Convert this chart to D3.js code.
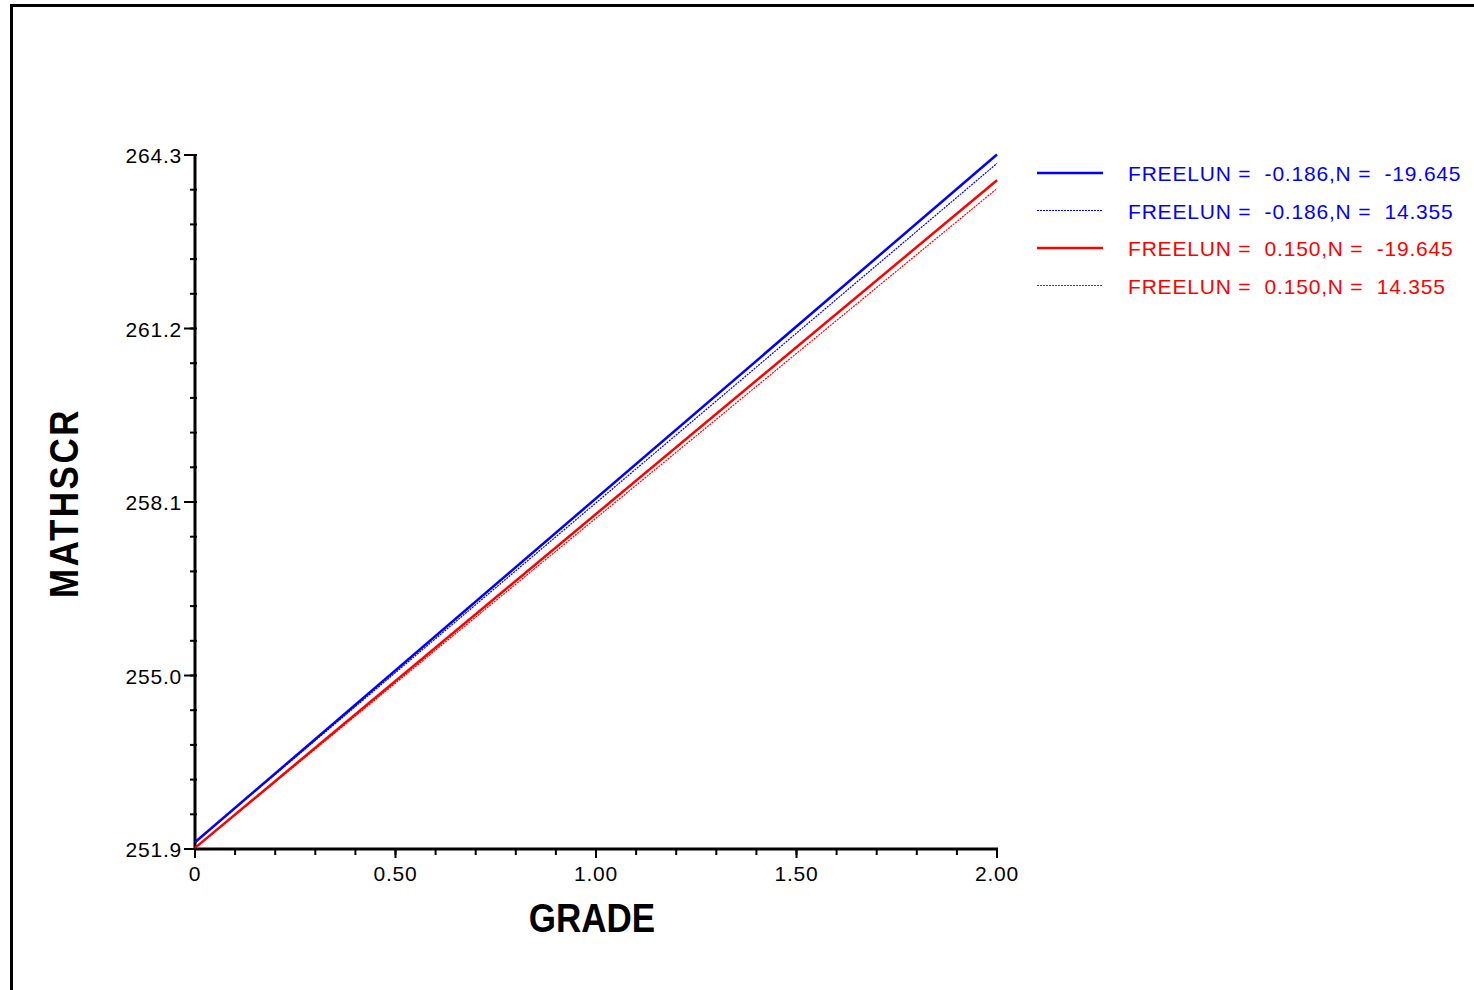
<!DOCTYPE html>
<html>
<head>
<meta charset="utf-8">
<script src="https://cdn.jsdelivr.net/npm/d3@7"></script>
<style>
  body { margin: 0; background: #fff; }
  text { font-family: "Liberation Sans", Arial, sans-serif; white-space: pre; }
</style>
</head>
<body>
<div id="chart"></div>
<script>
// series: MATHSCR predicted at GRADE = 0 and GRADE = 2
const grades = [0, 2];
const seriesNames = [
    "FREELUN =  -0.186,N =  -19.645",
    "FREELUN =  -0.186,N =  14.355",
    "FREELUN =  0.150,N =  -19.645",
    "FREELUN =  0.150,N =  14.355"
];
const seriesValues = [
    [252.02, 264.31],
    [252.02, 264.15],
    [251.92, 263.85],
    [251.92, 263.70]
];
const seriesColors = ["#0000ff", "#0000ff", "#ff0000", "#ff0000"];
const seriesThin = [false, true, false, true];
const yTickLabels = [251.9, 255.0, 258.1, 261.2, 264.3];
const xTickLabels = [0, 0.5, 1.0, 1.5, 2.0];

const width = 1474, height = 990;
const x0 = 195, x1 = 997, yTop = 155, yBot = 849;

const svg = d3.select("#chart").append("svg")
    .attr("width", width)
    .attr("height", height);

// outer frame
svg.append("rect")
    .attr("x", 11.5).attr("y", 5.5)
    .attr("width", width).attr("height", height)
    .attr("fill", "none")
    .attr("stroke", "#000")
    .attr("stroke-width", 3);

let x = d3.scaleLinear().domain([0, 2]).range([x0, x1]);
let y = d3.scaleLinear().domain([251.9, 264.3]).range([yBot, yTop]);

// y axis
let yMinor = d3.range(0, 21).map(i => 251.9 + i * 0.62);
let yAxis = svg.append("g").attr("transform", "translate(" + x0 + ",0)");
yAxis.append("line")
    .attr("y1", y(264.3) - 1).attr("y2", y(251.9) + 1)
    .attr("stroke", "#000").attr("stroke-width", 3);
yAxis.selectAll(".minor").data(yMinor).enter().append("line")
    .attr("x1", -5).attr("x2", 2)
    .attr("y1", d => y(d)).attr("y2", d => y(d))
    .attr("stroke", "#000").attr("stroke-width", 2);
yAxis.selectAll(".major").data(yTickLabels).enter().append("line")
    .attr("x1", -11).attr("x2", 0)
    .attr("y1", d => y(d)).attr("y2", d => y(d))
    .attr("stroke", "#000").attr("stroke-width", 2);
yAxis.selectAll(".lab").data(yTickLabels).enter().append("text")
    .attr("x", -13).attr("y", d => y(d) + 8)
    .attr("text-anchor", "end")
    .style("font-size", "21px").style("letter-spacing", "0.8px")
    .text(d => d.toFixed(1));

// x axis
let xMinor = d3.range(0, 21).map(i => i * 0.1);
let xAxis = svg.append("g").attr("transform", "translate(0," + yBot + ")");
xAxis.append("line")
    .attr("x1", x(0) - 1).attr("x2", x(2) + 1)
    .attr("stroke", "#000").attr("stroke-width", 3);
xAxis.selectAll(".minor").data(xMinor).enter().append("line")
    .attr("x1", d => x(d)).attr("x2", d => x(d))
    .attr("y1", 0).attr("y2", 6)
    .attr("stroke", "#000").attr("stroke-width", 2);
xAxis.selectAll(".major").data(xTickLabels).enter().append("line")
    .attr("x1", d => x(d)).attr("x2", d => x(d))
    .attr("y1", 0).attr("y2", 9)
    .attr("stroke", "#000").attr("stroke-width", 2);
xAxis.selectAll(".lab").data(xTickLabels).enter().append("text")
    .attr("x", d => x(d)).attr("y", 32)
    .attr("text-anchor", "middle")
    .style("font-size", "21px").style("letter-spacing", "0.8px")
    .text(d => d === 0 ? "0" : d.toFixed(2));

// axis titles
svg.append("text")
    .attr("transform", "translate(592,932) scale(1,1.17)")
    .attr("text-anchor", "middle")
    .style("font-size", "35px").style("font-weight", "bold")
    .text("GRADE");
svg.append("text")
    .attr("transform", "translate(78,503) rotate(-90) scale(1,1.17)")
    .attr("text-anchor", "middle")
    .style("font-size", "35px").style("font-weight", "bold")
    .style("letter-spacing", "2.5px")
    .text("MATHSCR");

// lines
let line = d3.line().x((d, i) => x(grades[i])).y(d => y(d));
svg.selectAll(".series").data(seriesValues).enter().append("path")
    .attr("d", d => line(d))
    .attr("fill", "none")
    .attr("stroke", (d, i) => seriesColors[i])
    .attr("stroke-width", (d, i) => seriesThin[i] ? 1.2 : 2.5)
    .attr("stroke-dasharray", (d, i) => seriesThin[i] ? "2,1" : null);

// legend
let legend = svg.selectAll(".legend").data(seriesNames).enter().append("g")
    .attr("transform", (d, i) => "translate(1037," + (173 + i * 37.5) + ")");
legend.append("line")
    .attr("x1", 0).attr("x2", 66)
    .attr("stroke", (d, i) => seriesColors[i])
    .attr("stroke-width", (d, i) => seriesThin[i] ? 1.2 : 2.5)
    .attr("stroke-dasharray", (d, i) => seriesThin[i] ? "2,1" : null);
legend.append("text")
    .attr("x", 91).attr("y", 8)
    .style("font-size", "21px").style("letter-spacing", "0.8px")
    .attr("fill", (d, i) => seriesColors[i])
    .text(d => d);
</script>
</body>
</html>
